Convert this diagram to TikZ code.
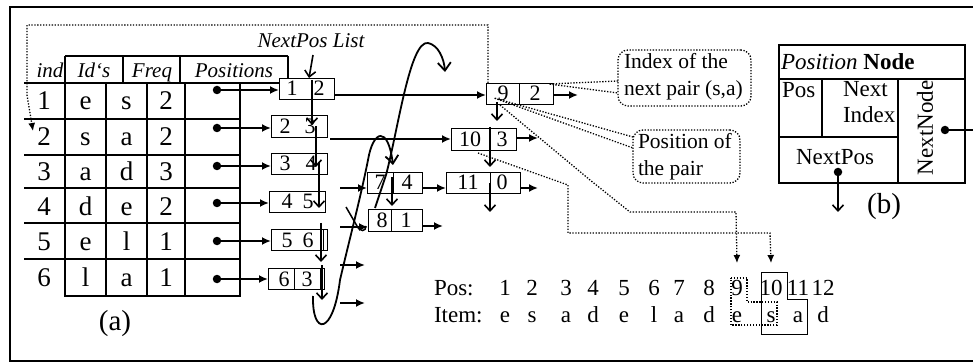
\documentclass[tikz,border=0pt]{standalone}
\usepackage{fontspec}
\setmainfont{Liberation Serif}
\usetikzlibrary{arrows.meta}
\begin{document}
\begin{tikzpicture}[x=1pt,y=-1pt,
  every node/.style={inner sep=0pt, outer sep=0pt},
  frame/.style={line width=2pt},
  tline/.style={line width=2.2pt},
  tthin/.style={line width=1.3pt},
  pbox/.style={draw, line width=0.9pt, anchor=north west},
  num/.style={font=\fontsize{22}{24}\selectfont, text height=15pt, text depth=0pt},
  row/.style={font=\fontsize{23}{26}\selectfont, text height=15.5pt, text depth=0pt},
  cell/.style={font=\fontsize{27}{30}\selectfont, text height=18pt, text depth=0pt},
  hdr/.style={font=\fontsize{21}{24}\selectfont\itshape, text height=14.5pt, text depth=0pt},
  harrow/.style={line width=1.8pt, -{Latex[length=9pt,width=8pt]}},
  varrow/.style={line width=1.6pt, -{Straight Barb[length=6pt,width=11pt,line width=1.6pt]}},
  curvearrow/.style={line width=1.8pt, -{Straight Barb[length=8pt,width=13pt,line width=1.8pt]}},
  dots/.style={line width=1.3pt, dash pattern=on 1.3pt off 1.6pt},
  dotsarrow/.style={dots, -{Latex[length=8pt,width=7pt]}},
  callout/.style={draw, dots, rounded corners=10pt, anchor=north west},
  ctext/.style={font=\fontsize{21.5}{27}\selectfont, align=left, anchor=west},
  btext/.style={font=\fontsize{23}{26}\selectfont},
  dot/.style={circle, fill, minimum size=8.5pt}
]
\useasboundingbox (0,0) rectangle (973,363);
% outer frame
\draw[frame] (973,7) -- (10,7) -- (10,361) -- (973,361);

% ---------- table (a) ----------
\draw[tline] (65,56) -- (288,56);
\draw[tline] (65,56) -- (65,296) -- (240,296) -- (240,83);
\draw[tline] (123,56) -- (123,83);
\draw[tline] (180,56) -- (180,83);
\draw[tline] (288,56) -- (288,78);
\draw[tline] (24,83) -- (279,83);
\draw[tline] (106,83) -- (106,296);
\draw[tline] (147,83) -- (147,296);
\draw[tline] (185,83) -- (185,296);
\draw[tline] (24,119) -- (240,119);
\draw[tline] (24,155) -- (240,155);
\draw[tline] (24,188) -- (240,188);
\draw[tthin] (24,223) -- (240,223);
\draw[tthin] (24,259) -- (240,259);

\node[hdr] (hind) at (50,70) {ind};
\node[hdr] (hid) at (94,70) {Id‘s};
\node[hdr] (hfreq) at (152,70) {Freq};
\node[hdr] (hpos) at (234,70) {Positions};

\foreach \r/\yc/\a/\b/\f in {1/101/e/s/2, 2/137/s/a/2, 3/171.5/a/d/3, 4/206/d/e/2, 5/241/e/l/1, 6/277.5/l/a/1} {
  \node[cell] (ind\r) at (44,\yc) {\r};
  \node[cell] (ida\r) at (85.5,\yc) {\a};
  \node[cell] (idb\r) at (126.5,\yc) {\b};
  \node[cell] (fr\r) at (166,\yc) {\f};
}
\node[font=\fontsize{29}{32}\selectfont] (alabel) at (115,324) {(a)};

% ---------- NextPos list boxes ----------
\node[pbox, minimum width=55pt, minimum height=21pt] (b12) at (279,78) {};
\node[pbox, minimum width=56pt, minimum height=22pt] (b23) at (271,115) {};
\node[pbox, minimum width=56pt, minimum height=21pt] (b34) at (271,153) {};
\node[pbox, minimum width=56pt, minimum height=21pt] (b45) at (269,191) {};
\node[pbox, minimum width=56pt, minimum height=21pt] (b56) at (271,229) {};
\node[pbox, minimum width=56pt, minimum height=21pt] (b63) at (268,268) {};
\draw[line width=0.9pt] (294,268) -- (294,289);
\draw[line width=0.9pt] (320,268) -- (320,289);
\draw[line width=0.9pt] (323,229) -- (323,250);

\node[num] (t12a) at (292,88.5) {1};
\node[num] (t12b) at (319,88.5) {2};
\node[num] (t23a) at (285,126) {2};
\node[num] (t23b) at (310,126) {3};
\node[num] (t34a) at (285,163.5) {3};
\node[num] (t34b) at (311,163.5) {4};
\node[num] (t45a) at (287,201.5) {4};
\node[num] (t45b) at (308,201.5) {5};
\node[num] (t56a) at (287,239.5) {5};
\node[num] (t56b) at (308,239.5) {6};
\node[num] (t63a) at (284,278.5) {6};
\node[num] (t63b) at (307,278.5) {3};

\node[hdr] (nplabel) at (311,40) {NextPos List};

% dot arrows from the table
\foreach \i/\yy/\bx in {1/90/b12, 2/128/b23, 3/166/b34, 4/203/b45, 5/241/b56, 6/279/b63} {
  \node[dot] (d\i) at (217,\yy) {};
  \draw[harrow] (d\i.center) -- (d\i.center -| \bx.west);
}

% chain arrows
\coordinate (np1) at (313,55);
\draw[varrow] (np1) -- (309,78);
\draw[varrow] (312,80) -- (312,125);
\draw[varrow] (316,126) -- (316,167);
\draw[varrow] (319,162) -- (319,208);
\draw[varrow] (321,223) -- (321,262);
\draw[varrow] (322,265) -- (322,300);

% second level boxes
\node[pbox, minimum width=55pt, minimum height=21pt] (b74) at (367,172) {};
\draw[line width=0.9pt] (393,172) -- (393,193);
\node[num] (t74a) at (380,182.5) {7};
\node[num] (t74b) at (407,182.5) {4};
\node[pbox, minimum width=54pt, minimum height=22pt] (b81) at (368,209) {};
\draw[line width=0.9pt] (391,209) -- (391,231);
\node[num] (t81a) at (382,220) {8};
\node[num] (t81b) at (406,220) {1};

\node[pbox, minimum width=67pt, minimum height=21pt] (b92) at (486,83) {};
\draw[line width=0.9pt] (519,83) -- (519,104);
\node[num] (t92a) at (503,93.5) {9};
\node[num] (t92b) at (535,93.5) {2};
\node[pbox, minimum width=65pt, minimum height=22pt] (b103) at (451,128) {};
\draw[line width=0.9pt] (490,128) -- (490,150);
\node[num] (t103a) at (470,139) {10};
\node[num] (t103b) at (502,139) {3};
\node[pbox, minimum width=74pt, minimum height=21pt] (b110) at (446,172) {};
\draw[line width=0.9pt] (490,172) -- (490,193);
\node[num] (t110a) at (468,182.5) {11};
\node[num] (t110b) at (502,182.5) {0};

% horizontal arrows
\draw[harrow] (b12.east |- 0,95) -- (b92.west |- 0,95);
\draw[harrow] (330,139) -- (b103.west |- 0,139);
\coordinate (e92) at (578,95);
\draw[harrow] (b92.east |- 0,95) -- (e92);
\coordinate (e103) at (538,138);
\draw[harrow] (b103.east |- 0,138) -- (e103);
\draw[harrow] (b74.east |- 0,188) -- (b110.west |- 0,188);
\coordinate (e110) at (538,188);
\draw[harrow] (b110.east |- 0,188) -- (e110);
\coordinate (e81) at (443,226);
\draw[harrow] (b81.east |- 0,226) -- (e81);
\coordinate (s74) at (340,188);
\draw[harrow] (s74) -- (s74 -| b74.west);
\coordinate (s81) at (340,227);
\draw[harrow] (s81) -- (s81 -| b81.west);
\draw[harrow] (340,265) -- (365,265);
\draw[harrow] (340,303) -- (365,303);

% down arrows
\draw[varrow] (497,102) -- (497,121);
\draw[varrow] (490,127) -- (490,167);
\draw[varrow] (490,183) -- (490,212);
\draw[varrow] (392,177) -- (392,206);

% big curves
\draw[curvearrow] (313,296) .. controls (312,336) and (333,336) .. (340,280)
  .. controls (350,237) and (360,200) .. (368,160)
  .. controls (373,130) and (388,125) .. (393,165);
\draw[curvearrow] (375,208) -- (386,175) .. controls (398,130) and (410,40) .. (428,43)
  .. controls (438,45) and (444,58) .. (445,72);
\draw[line width=1.5pt] (346,207) -- (357,226) .. controls (360,232) and (366,232) .. (366,226);

% dotted connectors
\draw[dotsarrow] (488,83) -- (488,25) -- (27,25) -- (27,95) -- (33,131);
\node[callout, minimum width=133pt, minimum height=56pt] (c1) at (618,50) {};
\node[ctext] (c1t) at (624,77) {Index of the\\next pair (s,a)};
\node[callout, minimum width=107pt, minimum height=53pt] (c2) at (633,130) {};
\node[ctext] (c2t) at (638,157) {Position of\\the pair};
\draw[dots] (618,81) -- (549,84) -- (618,93);
\draw[dots] (633,137) -- (494,98) -- (633,148);

% Pos / Item line
\node[row, anchor=west] (poslbl) at (434,288) {Pos:};
\node[row, anchor=west] (itemlbl) at (434,314.5) {Item:};
\foreach \x/\n/\c [count=\i] in {505/1/e, 532/2/s, 566/3/a, 593/4/d, 624/5/e, 654/6/l, 679/7/a, 709/8/d, 737/9/e, 771/10/s, 798/11/a, 823/12/d} {
  \node[row] (pos\i) at (\x,288) {\n};
  \node[row] (it\i) at (\x,314.5) {\c};
}
\draw[dotsarrow] (500,105) -- (590,180) -- (630,212) -- (736,212) -- (pos9.north |- 0,263);
\draw[dotsarrow] (478,153) -- (568,185) -- (568,233) -- (770,233) -- (pos10.north |- 0,263);
\draw[dots] (731,278) -- (747,278) -- (747,302) -- (777,302) -- (777,325) -- (731,325) -- cycle;
\draw[line width=0.9pt] (761,272) -- (787,272) -- (787,299) -- (807,299) -- (807,334) -- (761,334) -- cycle;

% ---------- (b) Position Node ----------
\node[draw, line width=1.2pt, anchor=north west, minimum width=186pt, minimum height=138pt] (bbox) at (779,45) {};
\draw[line width=1.2pt] (779,79) -- (965,79);
\draw[line width=1.2pt] (898,79) -- (898,183);
\draw[line width=1.2pt] (779,137) -- (898,137);
\draw[line width=1.2pt] (822,79) -- (822,137);
\node[btext, anchor=west] (btitle) at (781,62) {\textit{Position} \textbf{Node}};
\node[btext, anchor=north west] (bpos) at (782,82) {Pos};
\node[btext, anchor=north west, align=left, font=\fontsize{23}{26.5}\selectfont] (bnext) at (843,81) {Next\\Index};
\node[btext] (bnp) at (835,157) {NextPos};
\node[btext, rotate=90] (bnn) at (925,128) {NextNode};
\node[dot] (bd1) at (838,172) {};
\coordinate (bd1e) at (838,212);
\draw[varrow] (bd1.center) -- (bd1e);
\node[dot] (bd2) at (945,130) {};
\coordinate (bd2e) at (973,130);
\draw[line width=1.6pt] (bd2.center) -- (bd2e);
\node[font=\fontsize{29}{32}\selectfont] (blabel) at (884,207) {(b)};
\end{tikzpicture}
\end{document}
